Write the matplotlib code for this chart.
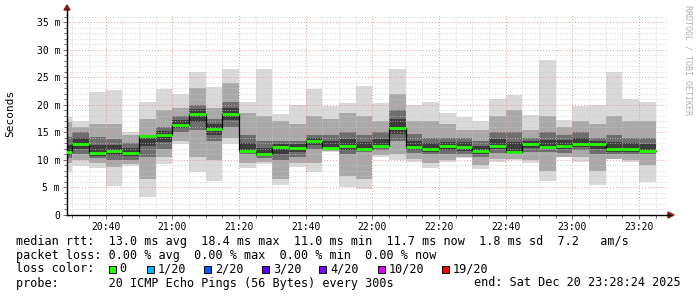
import numpy as np
import pandas as pd
import matplotlib
matplotlib.use("Agg")
import matplotlib.pyplot as plt
import matplotlib.dates as mdates
from matplotlib.ticker import MultipleLocator, FuncFormatter
from matplotlib.patches import Rectangle, Polygon

plt.rcParams["font.family"] = ["DejaVu Sans Mono", "DejaVu Sans"]

# ── data (5-minute rounds of 20 pings, values in ms) ──────────────────────
t_start = "2025-12-20 20:25"
t_end = "2025-12-20 23:28:24"
n_rounds = 36

median = [11.4, 12.8, 11.2, 11.6, 11.3, 14.4, 14.5, 16.4, 18.4, 15.6, 18.4, 11.7,
          11.0, 12.3, 12.2, 13.5, 12.2, 12.6, 12.0, 12.6, 15.8, 12.3, 12.0, 12.5,
          12.4, 11.6, 12.6, 11.4, 12.8, 12.3, 12.6, 12.8, 12.8, 12.0, 12.0, 11.7]
ping_max = [17.7, 17.0, 22.4, 22.7, 15.0, 20.5, 22.9, 22.0, 26.0, 23.3, 26.5, 20.6,
            26.5, 18.4, 19.9, 22.9, 19.7, 20.4, 23.5, 20.4, 26.5, 19.9, 20.6, 18.5,
            17.7, 17.1, 21.0, 21.7, 18.2, 28.2, 17.3, 19.7, 20.0, 26.0, 21.1, 20.5]
ping_min = [7.8, 8.9, 8.6, 5.3, 8.9, 3.2, 9.3, 12.9, 7.8, 6.1, 12.8, 8.6,
            9.3, 5.4, 8.8, 7.8, 11.4, 5.0, 4.7, 10.5, 9.9, 9.6, 8.5, 9.6,
            10.3, 8.3, 9.6, 9.9, 9.5, 6.1, 10.5, 9.6, 5.4, 10.5, 9.6, 5.9]
p90 = [16.8, 15.9, 16.5, 16.5, 14.5, 17.5, 19.0, 19.5, 23.0, 19.5, 24.0, 18.5,
       18.0, 17.0, 16.5, 18.0, 17.5, 18.5, 18.0, 17.0, 22.0, 17.0, 17.0, 16.5,
       15.5, 15.5, 18.0, 19.0, 15.5, 18.0, 16.0, 17.0, 16.5, 18.0, 17.0, 17.0]
q3 = [14.1, 15.0, 14.1, 13.8, 13.0, 14.5, 16.0, 18.0, 20.0, 17.5, 20.5, 14.5,
      13.5, 13.5, 13.5, 14.5, 14.5, 15.0, 14.5, 15.0, 19.0, 14.7, 14.0, 14.0,
      14.0, 13.5, 15.0, 15.0, 14.0, 15.0, 14.5, 15.0, 14.0, 14.5, 14.0, 14.0]
q1 = [10.3, 11.1, 10.3, 10.0, 10.0, 10.5, 12.0, 15.0, 15.5, 13.5, 16.0, 11.0,
      10.3, 10.0, 10.5, 12.0, 12.0, 11.0, 11.5, 11.8, 13.5, 11.2, 11.0, 11.0,
      11.0, 10.5, 11.2, 11.0, 11.5, 11.5, 11.2, 11.8, 11.0, 11.0, 11.0, 11.0]
p10 = [9.4, 9.9, 9.5, 8.7, 9.3, 6.5, 10.5, 13.5, 10.5, 10.0, 14.0, 9.5,
       9.6, 6.5, 9.5, 9.5, 11.6, 7.0, 6.5, 10.8, 11.0, 10.2, 9.5, 10.0,
       10.5, 9.0, 10.2, 10.2, 10.0, 8.0, 10.5, 10.5, 8.0, 10.2, 10.0, 9.0]

stats_lines = [
    "median rtt:  13.0 ms avg  18.4 ms max  11.0 ms min  11.7 ms now  1.8 ms sd  7.2   am/s",
    "packet loss: 0.00 % avg  0.00 % max  0.00 % min  0.00 % now",
]
loss_labels = ["0", "1/20", "2/20", "3/20", "4/20", "10/20", "19/20"]
loss_colors = ["#26ff00", "#00b8ff", "#0059ff", "#5e00ff", "#7e00ff", "#dd00ff", "#ff0000"]
probe_text = "probe:       20 ICMP Echo Pings (56 Bytes) every 300s"
end_text = "end: Sat Dec 20 23:28:24 2025"

# ── figure ────────────────────────────────────────────────────────────────
W, H = 697, 297
fig = plt.figure(figsize=(W / 100, H / 100), dpi=100)
fig.patch.set_facecolor("white")
ax = fig.add_axes([67 / W, 82 / H, 600 / W, 200 / H])

times = pd.date_range(t_start, periods=n_rounds, freq="5min")
x = mdates.date2num(times)
w = 5 / 1440

med = np.array(median)
lo_c = med - 0.5 * (med - np.array(q1))
hi_c = med + 0.5 * (np.array(q3) - med)

# smoke: nested bands, darker toward the median
bands = [(ping_min, ping_max, "#d9d9d9"),
         (p10, p90, "#a9a9a9"),
         (q1, q3, "#6e6e6e"),
         (lo_c, hi_c, "#3c3c3c")]
for lo, hi, c in bands:
    lo = np.array(lo)
    hi = np.array(hi)
    ax.bar(x, hi - lo, bottom=lo, width=w, align="edge", color=c, linewidth=0, zorder=1)

# median: black step joints + green segments
ax.step(np.append(x, x[-1] + w), np.append(med, med[-1]), where="post",
        color="black", lw=0.9, zorder=3)
ax.hlines(med, x, x + w, color=loss_colors[0], lw=2.0, zorder=4)

ax.set_xlim(mdates.datestr2num("2025-12-20 20:28:24"), mdates.datestr2num(t_end))
ax.set_ylim(0, 36.3)

ax.xaxis.set_major_locator(mdates.MinuteLocator(byminute=[0, 20, 40]))
ax.xaxis.set_minor_locator(mdates.MinuteLocator(byminute=range(0, 60, 5)))
ax.xaxis.set_major_formatter(mdates.DateFormatter("%H:%M"))
ax.yaxis.set_major_locator(MultipleLocator(5))
ax.yaxis.set_minor_locator(MultipleLocator(1))
ax.yaxis.set_major_formatter(FuncFormatter(lambda v, p: "0" if v == 0 else f"{v:.0f} m"))

ax.grid(which="minor", color="#c8c8c8", linestyle=(0, (1, 2)), lw=0.6)
ax.grid(which="major", color="#e49a9a", linestyle=(0, (1, 2)), lw=0.7)
ax.tick_params(which="both", labelsize=7, length=2, width=0.6, color="#555555", pad=2)
ax.tick_params(which="major", length=3)

for s in ["top", "right"]:
    ax.spines[s].set_visible(False)
for s in ["left", "bottom"]:
    ax.spines[s].set_linewidth(1.0)

# ── overlay in pixel coordinates for labels, arrows and legend ────────────
ov = fig.add_axes([0, 0, 1, 1], facecolor="none")
ov.set_xlim(0, W)
ov.set_ylim(H, 0)
ov.axis("off")

ov.plot([67, 67], [15, 9], color="black", lw=1.0)
ov.plot([667, 670], [215, 215], color="black", lw=1.0)
ov.add_patch(Polygon([[64, 10], [70, 10], [67, 5]], closed=True, color="#8b1a1a"))
ov.add_patch(Polygon([[668, 212], [668, 218], [674, 215]], closed=True, color="#8b1a1a"))

ov.text(10, 113, "Seconds", rotation=90, ha="center", va="center", fontsize=8)
ov.text(688, 5, "RRDTOOL / TOBI OETIKER", rotation=270, ha="center", va="top",
        fontsize=6, color="#b0b0b0")

fs = 8.5
ov.text(16, 241, stats_lines[0], fontsize=fs, va="center", ha="left")
ov.text(16, 255, stats_lines[1], fontsize=fs, va="center", ha="left")
ov.text(16, 269, "loss color:", fontsize=fs, va="center", ha="left")
sq_x = [108.5, 146.5, 204, 262, 319, 377.5, 442]
for sx, lab, c in zip(sq_x, loss_labels, loss_colors):
    ov.add_patch(Rectangle((sx, 265.5), 7, 7, facecolor=c, edgecolor="black", lw=0.7))
    ov.text(sx + 11, 269, lab, fontsize=fs, va="center", ha="left")
ov.text(16, 283, probe_text, fontsize=fs, va="center", ha="left")
ov.text(681, 283, end_text, fontsize=fs, va="center", ha="right")

fig.savefig("out.png", dpi=100)
